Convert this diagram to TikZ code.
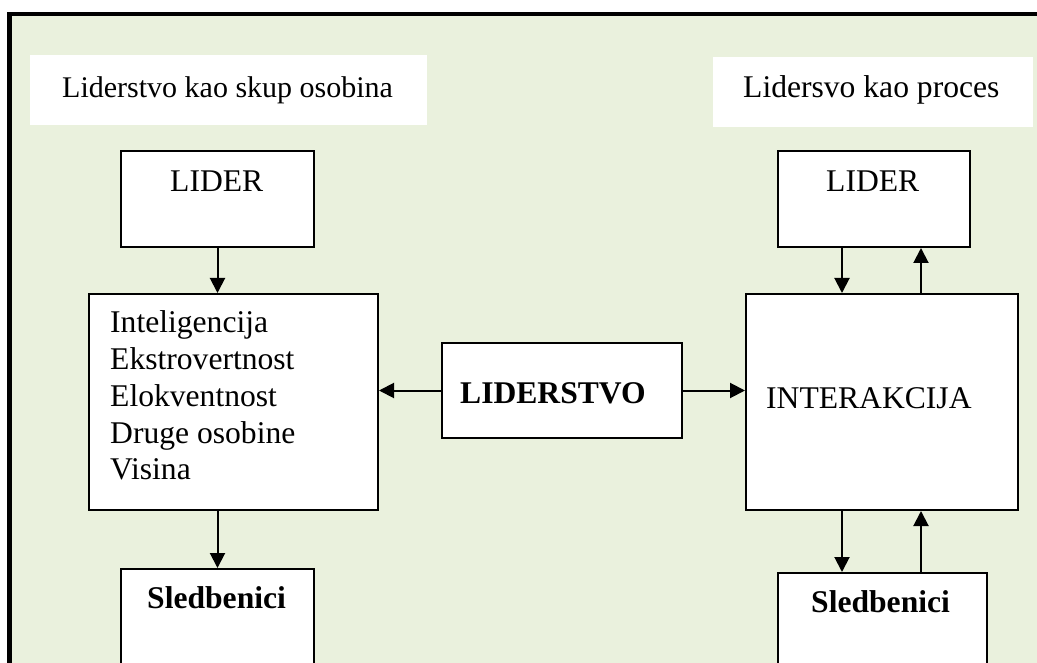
\documentclass[tikz,border=0pt]{standalone}
\usepackage{fontspec}
\setmainfont{Liberation Serif}
\usetikzlibrary{arrows.meta,calc}
\definecolor{panel}{RGB}{234,241,221}
\begin{document}
\begin{tikzpicture}[x=1pt,y=-1pt,
  box/.style={draw=black, line width=2pt, fill=white, inner sep=0pt, anchor=north west},
  lbl/.style={anchor=base west, inner sep=0pt, font=\fontsize{31.6}{37}\selectfont},
  blbl/.style={anchor=base west, inner sep=0pt, font=\fontsize{31.6}{37}\selectfont\bfseries},
  arr/.style={line width=2pt, -{Triangle[length=15pt,width=15pt]}},
  banner/.style={fill=white, draw=none, inner sep=0pt, anchor=north west}]
\useasboundingbox (0,0) rectangle (1037,663);
\clip (0,0) rectangle (1037,663);

% panel with its framed top and left edges
\fill[panel] (9.5,14) rectangle (1045,670);
\draw[line width=4.4pt] (9.5,670) -- (9.5,14) -- (1045,14);

% headings
\node[banner, minimum width=397, minimum height=70] (headL) at (30,55) {};
\node[banner, minimum width=320, minimum height=70] (headR) at (713,57) {};
\node[lbl, font=\fontsize{30}{36}\selectfont] (headLtxt) at (62,98) {Liderstvo kao skup osobina};
\node[lbl] (headRtxt) at (743,98) {Lidersvo kao proces};

% left column: traits view
\node[box, minimum width=193, minimum height=96] (lider1) at (120,150) {};
\node[lbl] (lider1txt) at (170,192) {LIDER};
\node[box, minimum width=289, minimum height=216] (traits) at (88,293) {};
\node[lbl] (traitstxt) at (110,333) {\parbox[t]{260pt}{\fontsize{31.6}{36.7}\selectfont
  Inteligencija\\Ekstrovertnost\\Elokventnost\\Druge osobine\\Visina}};
\node[box, minimum width=193, minimum height=120] (fol1) at (120,568) {};
\node[blbl] (fol1txt) at (147,608) {Sledbenici};

% centre
\node[box, minimum width=240, minimum height=95] (star) at (441,342) {};
\node[blbl] (startxt) at (460,403) {LIDERSTVO};

% right column: process view
\node[box, minimum width=192, minimum height=96] (lider2) at (777,150) {};
\node[lbl] (lider2txt) at (826,192) {LIDER};
\node[box, minimum width=272, minimum height=216] (inter) at (745,293) {};
\node[lbl] (intertxt) at (766,408) {INTERAKCIJA};
\node[box, minimum width=209, minimum height=120] (fol2) at (777,572) {};
\node[blbl] (fol2txt) at (811,612) {Sledbenici};

% connectors
\draw[arr] (lider1.south) -- (lider1.south |- traits.north);
\draw[arr] (traits.south -| lider1.south) -- (fol1.north);
\draw[arr] (star.west) -- (star.west -| traits.east);
\draw[arr] (star.east) -- (star.east -| inter.west);

\coordinate (dn) at ($(lider2.south west)+(65,0)$);
\coordinate (up) at ($(lider2.south west)+(144,0)$);
\draw[arr] (dn) -- (dn |- inter.north);
\draw[arr] (up |- inter.north) -- (up);
\draw[arr] (dn |- inter.south) -- (dn |- fol2.north);
\draw[arr] (up |- fol2.north) -- (up |- inter.south);
\end{tikzpicture}
\end{document}
